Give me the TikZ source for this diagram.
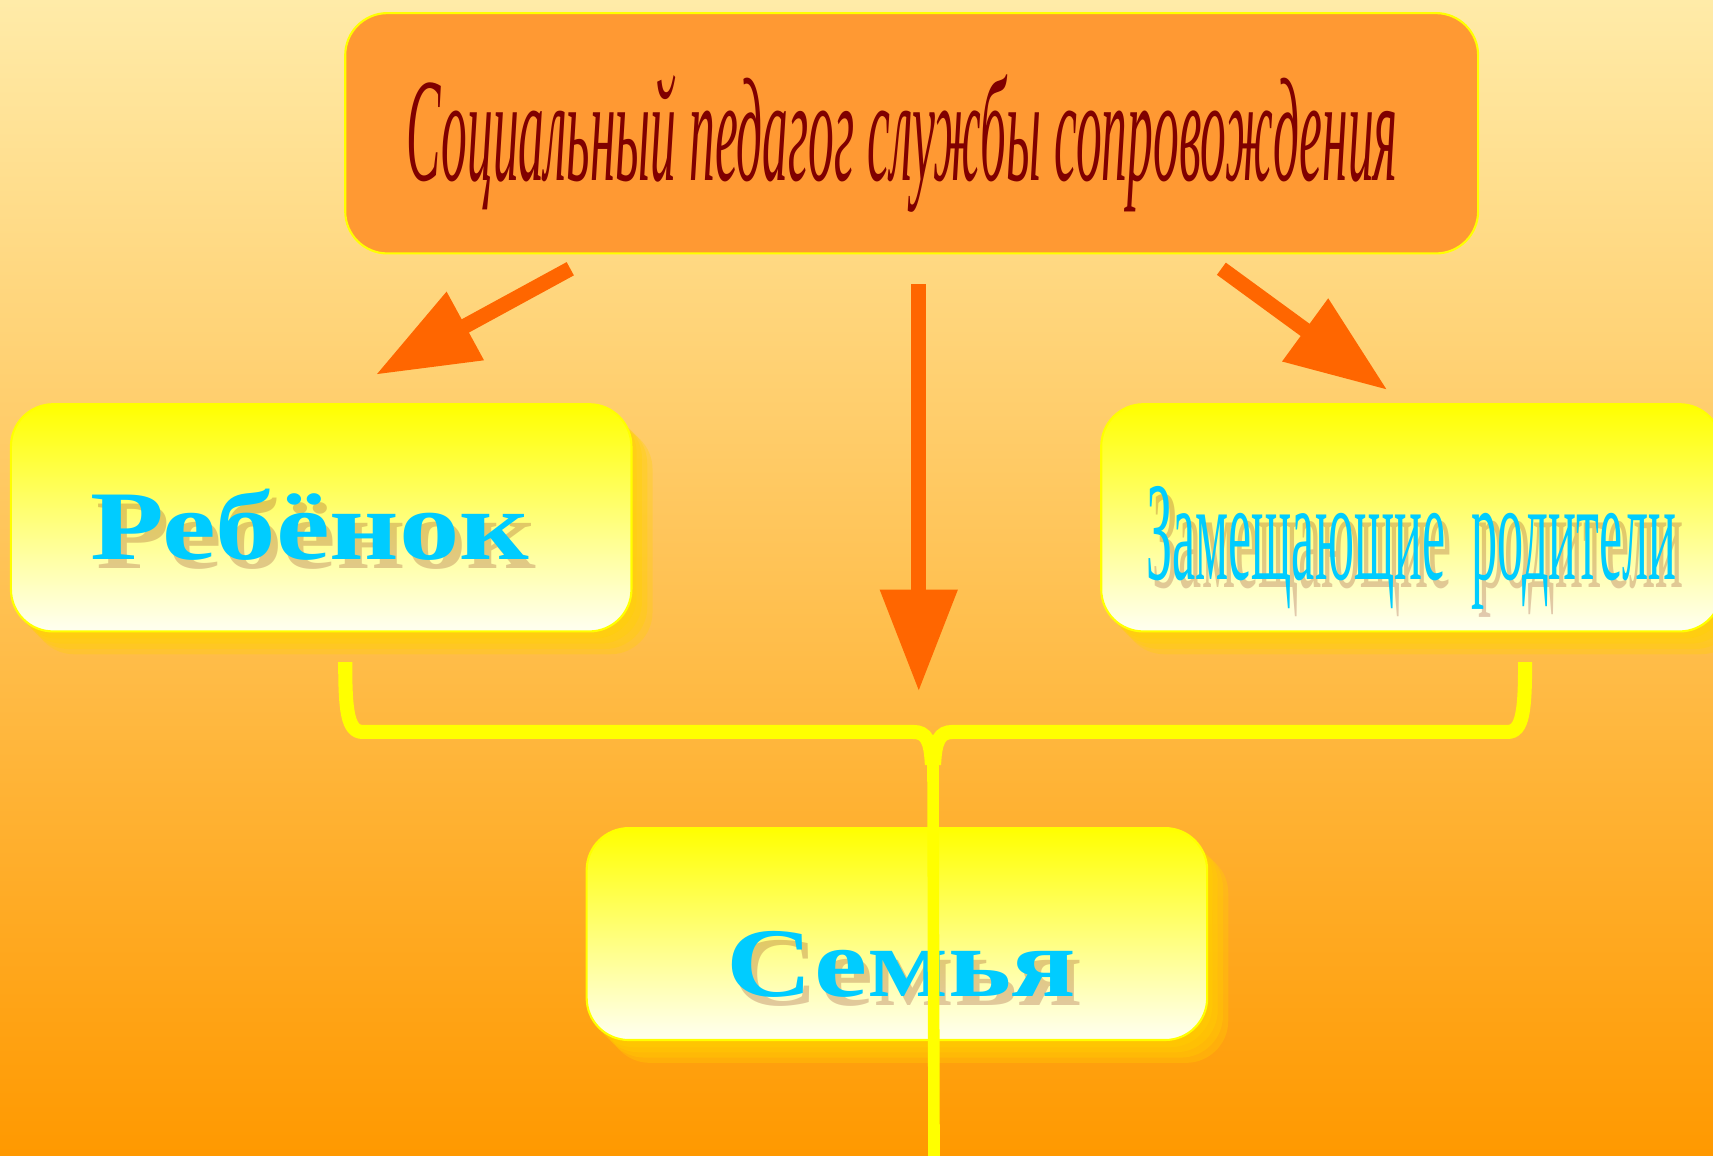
\documentclass[tikz,border=0pt]{standalone}
\usepackage{fontspec}
\setmainfont{Liberation Serif}
\usetikzlibrary{arrows.meta,shadows}
\def\ux{0.10925mm}
\definecolor{bgtop}{HTML}{FFEBA8}
\definecolor{bgbot}{HTML}{FF9900}
\definecolor{pedfill}{HTML}{FF9933}
\definecolor{peddark}{HTML}{800000}
\definecolor{arrorange}{HTML}{FF6600}
\definecolor{boxyellow}{HTML}{FFFF00}
\definecolor{boxcream}{HTML}{FFFFF2}
\definecolor{glow}{HTML}{FFD200}
\definecolor{wordcyan}{HTML}{00CCFF}
\definecolor{wordshade}{HTML}{8A2A18}
\tikzset{
  box/.style={rounded corners=12pt, draw=boxyellow, line width=0.6pt, inner sep=0pt},
  pedbox/.style={box, fill=pedfill},
  glowbox/.style={box, top color=boxyellow, bottom color=boxcream,
    general shadow={fill=glow, opacity=0.3, shadow xshift=1.5pt, shadow yshift=-2pt},
    general shadow={fill=glow, opacity=0.3, shadow xshift=3pt, shadow yshift=-3.5pt},
    general shadow={fill=glow, opacity=0.3, shadow xshift=4.5pt, shadow yshift=-5pt},
    general shadow={fill=glow, opacity=0.3, shadow xshift=6pt, shadow yshift=-6.5pt}},
  pedword/.style={anchor=base, inner sep=0pt, text=peddark, font=\fontsize{42}{42}\selectfont\itshape},
  word/.style={anchor=base, inner sep=0pt, text=wordcyan, font=\fontsize{28}{28}\selectfont},
  wordshadow/.style={word, text=wordshade, opacity=0.25},
  pedarrow/.style={draw=arrorange, line width=4.3pt, -{Triangle[length=29pt,width=21pt]}},
  brace/.style={draw=boxyellow, line width=4pt},
  bracetail/.style={draw=boxyellow, line width=3.3pt}
}
% text with a shadow behind it: name, position, width, text
\newcommand\shadowword[4]{%
  \begin{scope}[shift={(6,8)}]
    \node[wordshadow] at #2 {\resizebox{#3}{\height}{#4}};
  \end{scope}
  \node[word] (#1) at #2 {\resizebox{#3}{\height}{#4}};
}
\begin{document}
\begin{tikzpicture}[x=\ux, y=-\ux]
\clip (0,0) rectangle (1568,1058);
\shade[top color=bgtop, bottom color=bgbot] (0,0) rectangle (1568,1058);

% boxes
\node[pedbox, minimum width=1037*\ux, minimum height=220*\ux] (ped) at (834.5,122) {};
\node[glowbox, minimum width=568*\ux, minimum height=208*\ux] (child) at (294,474) {};
\node[glowbox, minimum width=568*\ux, minimum height=208*\ux] (subst) at (1292,474) {};
\node[glowbox, minimum width=568*\ux, minimum height=194*\ux] (family) at (821,855) {};

% texts
\node[pedword] (pedtxt) at (826,165) {\resizebox{282pt}{\height}{Социальный педагог службы сопровождения}};
\shadowword{childtxt}{(283.5,512)}{125pt}{\bfseries Ребёнок}
\shadowword{substtxt}{(1292,530)}{151pt}{\fontsize{40}{40}\selectfont Замещающие\ \ родители}
\shadowword{familytxt}{(825,912)}{99.5pt}{\bfseries Семья}

% arrows
\coordinate (pl) at (522,246);
\coordinate (cl) at (344,343);
\coordinate (pm) at (841,260);
\coordinate (fm) at (841,633);
\coordinate (pr) at (1118,246);
\coordinate (sr) at (1270,357);
\draw[pedarrow] (pl) -- (cl);
\draw[pedarrow] (pm) -- (fm);
\draw[pedarrow] (pr) -- (sr);

% brace
\coordinate (bl) at (316,606);
\coordinate (br) at (1396,606);
\coordinate (bt) at (855,1070);
\draw[brace] (bl) .. controls (316,650) and (318,670) .. (332,670) -- (836,670)
  .. controls (848,670) and (852,678) .. (853,700);
\draw[brace] (br) .. controls (1396,650) and (1394,670) .. (1380,670) -- (872,670)
  .. controls (860,670) and (856,678) .. (855,700);
\draw[bracetail] (854,690) -- (bt);
\end{tikzpicture}
\end{document}
